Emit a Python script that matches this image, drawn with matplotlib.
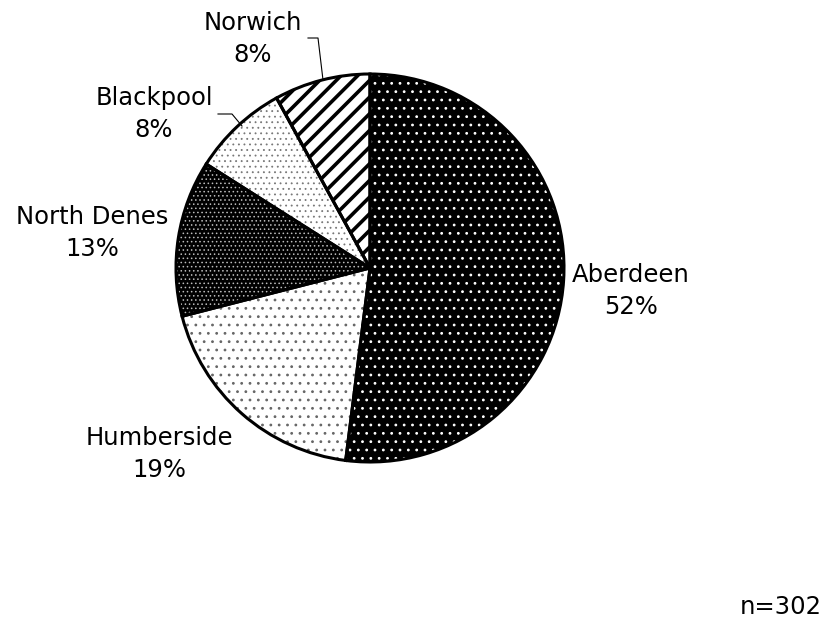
import matplotlib
matplotlib.use("Agg")
import matplotlib.pyplot as plt

# Share of respondents by heliport
sites = ["Aberdeen", "Humberside", "North Denes", "Blackpool", "Norwich"]
shares = [52, 19, 13, 8, 8]
n_total = 302

# fill, hatch, hatch colour per slice
fills = ["black", "white", "black", "white", "white"]
hatches = ["..", "..", "....", "...", "//"]
hatch_cols = ["white", "#666666", "#bbbbbb", "#777777", "black"]
hatch_widths = [0.8, 0.8, 0.6, 0.6, 2.6]

# label anchor points (pixels from top-left)
label_xy = [(631, 291), (159, 454), (92, 233), (154, 114), (253, 39)]

W, H = 827, 624
fig = plt.figure(figsize=(W / 100, H / 100), dpi=100)
ax = fig.add_axes([0, 0, 1, 1])

centre = (370, H - 268)
radius = 194

# hatched fills
plt.rcParams["hatch.linewidth"] = 0.8
wedges, _ = ax.pie(shares, startangle=90, counterclock=False,
                   center=centre, radius=radius, frame=True)
for w, fc, h, hc, hw in zip(wedges, fills, hatches, hatch_cols, hatch_widths):
    w.set_facecolor(fc)
    w.set_hatch(h)
    w.set_edgecolor(hc)
    w.set_linewidth(0)
    if hasattr(w, "set_hatch_linewidth"):
        w.set_hatch_linewidth(hw)

# outlines on top
ax.pie(shares, startangle=90, counterclock=False, center=centre, radius=radius,
       frame=True, wedgeprops=dict(fill=False, edgecolor="black", linewidth=2.2))
ax.set_xlim(0, W)
ax.set_ylim(0, H)
ax.set_aspect("equal")
ax.axis("off")

for name, val, (x, y) in zip(sites, shares, label_xy):
    ax.text(x, H - y, f"{name}\n{val}%", ha="center", va="center",
            fontsize=17.5, linespacing=1.45, color="black")

# leader lines for the two small slices
ax.plot([308, 318, 323], [H - 38, H - 38, H - 80], color="black", lw=0.8)
ax.plot([218, 232, 242], [H - 114, H - 114, H - 126], color="black", lw=0.8)

ax.text(781, H - 607, f"n={n_total}", ha="center", va="center", fontsize=17.5)

fig.savefig("out.png", dpi=100)
